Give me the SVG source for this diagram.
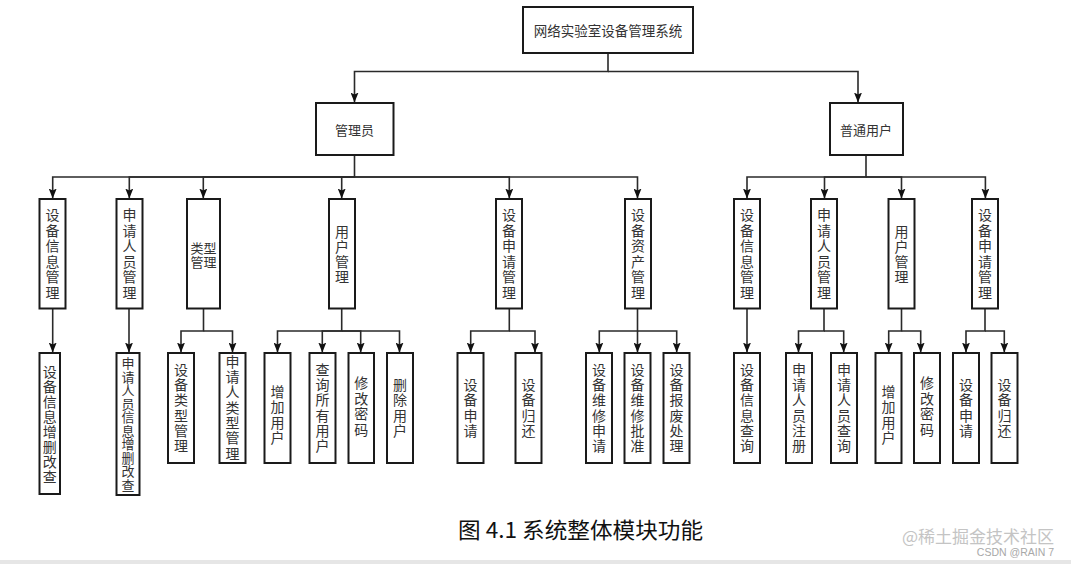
<svg xmlns="http://www.w3.org/2000/svg" width="1071" height="564" viewBox="0 0 1071 564">
<style>
.box{fill:#fff;stroke:#1a1a1a;stroke-width:2}
.t{font-family:"Noto Sans CJK SC","Noto Sans",sans-serif;font-size:14px;fill:#333;text-anchor:middle}
.h{font-size:13px}
.v{writing-mode:vertical-rl;text-orientation:upright;letter-spacing:1.5px}
.v15{letter-spacing:1px}
.v153{letter-spacing:1.33px}
.edge{fill:none;stroke:#2a2a2a;stroke-width:1.6;marker-end:url(#arr)}
</style>
<defs>
<marker id="arr" viewBox="0 0 10 8" refX="10" refY="4" markerWidth="10" markerHeight="8" markerUnits="userSpaceOnUse" orient="auto">
<path d="M0,0 L10,4 L0,8 L2,4 z" fill="#111"/>
</marker>
</defs>
<rect width="1071" height="564" fill="#fff"/>
<rect x="0" y="560" width="1071" height="4" fill="#e6e6e6"/>

<g id="connectors">
<path class="edge" d="M608,53 V71.5 H354.5 V102.5"/>
<path class="edge" d="M608,71.5 H858 V102.5"/>
<path class="edge" d="M354.5,155 V177 H52.7 V198.5"/>
<path class="edge" d="M354.5,177 H129.3 V198.5"/>
<path class="edge" d="M354.5,177 H203.3 V198.5"/>
<path class="edge" d="M354.5,177 H341.7 V198.5"/>
<path class="edge" d="M354.5,177 H509.3 V198.5"/>
<path class="edge" d="M354.5,177 H637.5 V198.5"/>
<path class="edge" d="M866,155 V177 H747 V198.5"/>
<path class="edge" d="M866,177 H824.5 V198.5"/>
<path class="edge" d="M866,177 H901.5 V198.5"/>
<path class="edge" d="M866,177 H985.4 V198.5"/>
<path class="edge" d="M52.7,308.5 V352.5"/>
<path class="edge" d="M129,308.5 V352.5"/>
<path class="edge" d="M203.5,308.5 V331 H181 V352.5"/>
<path class="edge" d="M203.5,331 H232.5 V352.5"/>
<path class="edge" d="M341.7,308.5 V331 H277.5 V352.5"/>
<path class="edge" d="M341.7,331 H322.3 V352.5"/>
<path class="edge" d="M341.7,331 H360.7 V352.5"/>
<path class="edge" d="M341.7,331 H399.5 V352.5"/>
<path class="edge" d="M509.3,308.5 V331 H470.7 V352.5"/>
<path class="edge" d="M509.3,331 H535 V352.5"/>
<path class="edge" d="M637.5,308.5 V331 H599.3 V352.5"/>
<path class="edge" d="M637.5,331 V352.5"/>
<path class="edge" d="M637.5,331 H676.7 V352.5"/>
<path class="edge" d="M747,308.5 V352.5"/>
<path class="edge" d="M824,308.5 V331 H798.5 V352.5"/>
<path class="edge" d="M824,331 H843.7 V352.5"/>
<path class="edge" d="M901.5,308.5 V331 H888.7 V352.5"/>
<path class="edge" d="M901.5,331 H920.7 V352.5"/>
<path class="edge" d="M985,308.5 V331 H966 V352.5"/>
<path class="edge" d="M985,331 H1004.3 V352.5"/>
</g>

<g id="root">
<rect class="box" x="523" y="7" width="170" height="46"/>
<text class="t" x="608" y="35.5" style="font-size:13.5px">网络实验室设备管理系统</text>
</g>
<g id="admin">
<rect class="box" x="316" y="103" width="77.5" height="52"/>
<text class="t h" x="354.5" y="134.5">管理员</text>
</g>
<g id="user">
<rect class="box" x="830" y="103" width="73" height="52"/>
<text class="t h" x="866" y="134.5">普通用户</text>
</g>

<g id="a-device-info">
<rect class="box" x="39.5" y="199" width="26" height="109.5"/>
<text class="t v" x="52.5" y="254.5">设备信息管理</text>
</g>
<g id="a-applicant">
<rect class="box" x="116.5" y="199" width="26" height="109.5"/>
<text class="t v" x="129.5" y="254.5">申请人员管理</text>
</g>
<g id="a-type">
<rect class="box" x="187" y="199" width="33" height="109.5"/>
<text class="t h" x="203.5" y="253">类型</text>
<text class="t h" x="203.5" y="267">管理</text>
</g>
<g id="a-usermgmt">
<rect class="box" x="329" y="199" width="26" height="109.5"/>
<text class="t v v15" x="342" y="254.5">用户管理</text>
</g>
<g id="a-apply">
<rect class="box" x="496" y="199" width="26" height="109.5"/>
<text class="t v" x="509" y="254.5">设备申请管理</text>
</g>
<g id="a-asset">
<rect class="box" x="625" y="199" width="26" height="109.5"/>
<text class="t v" x="638" y="254.5">设备资产管理</text>
</g>
<g id="u-device-info">
<rect class="box" x="734" y="199" width="26" height="109.5"/>
<text class="t v" x="747" y="254.5">设备信息管理</text>
</g>
<g id="u-applicant">
<rect class="box" x="811" y="199" width="26" height="109.5"/>
<text class="t v" x="824" y="254.5">申请人员管理</text>
</g>
<g id="u-usermgmt">
<rect class="box" x="888.5" y="199" width="26" height="109.5"/>
<text class="t v v15" x="901.5" y="254.5">用户管理</text>
</g>
<g id="u-apply">
<rect class="box" x="972" y="199" width="26" height="109.5"/>
<text class="t v" x="985" y="254.5">设备申请管理</text>
</g>

<g id="a-device-crud">
<rect class="box" x="39.5" y="353" width="20.5" height="141"/>
<text class="t v v15" x="49.7" y="424.5">设备信息增删改查</text>
</g>
<g id="a-applicant-crud">
<rect class="box" x="116.5" y="353" width="23" height="142"/>
<text class="t v" x="128" y="424.5" style="font-size:13px;letter-spacing:0.5px">申请人员信息增删改查</text>
</g>
<g id="a-device-type">
<rect class="box" x="168" y="353" width="26" height="110"/>
<text class="t v v153" x="181" y="408.5">设备类型管理</text>
</g>
<g id="a-applicant-type">
<rect class="box" x="219.5" y="353" width="26" height="110"/>
<text class="t v v153" x="232.5" y="408">申请人类型管理</text>
</g>
<g id="a-add-user">
<rect class="box" x="264.5" y="353" width="26" height="110"/>
<text class="t v" x="277.5" y="415.5">增加用户</text>
</g>
<g id="a-query-users">
<rect class="box" x="309.5" y="353" width="26" height="110"/>
<text class="t v v153" x="322.5" y="408.5">查询所有用户</text>
</g>
<g id="a-change-pwd">
<rect class="box" x="348.5" y="353" width="25.5" height="110"/>
<text class="t v" x="361.2" y="407">修改密码</text>
</g>
<g id="a-del-user">
<rect class="box" x="387" y="353" width="26" height="110"/>
<text class="t v" x="400" y="408.5">删除用户</text>
</g>
<g id="a-dev-apply">
<rect class="box" x="457.5" y="353" width="26" height="110"/>
<text class="t v" x="470.5" y="408.5">设备申请</text>
</g>
<g id="a-dev-return">
<rect class="box" x="515.5" y="353" width="26" height="110"/>
<text class="t v" x="528.5" y="408.5">设备归还</text>
</g>
<g id="a-repair-apply">
<rect class="box" x="586" y="353" width="26" height="110"/>
<text class="t v v153" x="599" y="408.5">设备维修申请</text>
</g>
<g id="a-repair-approve">
<rect class="box" x="624.5" y="353" width="26" height="110"/>
<text class="t v v153" x="637.5" y="408.5">设备维修批准</text>
</g>
<g id="a-scrap">
<rect class="box" x="663.5" y="353" width="26" height="110"/>
<text class="t v v153" x="676.5" y="408.5">设备报废处理</text>
</g>
<g id="u-info-query">
<rect class="box" x="734" y="353" width="26" height="110"/>
<text class="t v v153" x="747" y="408.5">设备信息查询</text>
</g>
<g id="u-register">
<rect class="box" x="786" y="353" width="26" height="110"/>
<text class="t v v153" x="799" y="408.5">申请人员注册</text>
</g>
<g id="u-applicant-query">
<rect class="box" x="831" y="353" width="26" height="110"/>
<text class="t v v153" x="844" y="408.5">申请人员查询</text>
</g>
<g id="u-add-user">
<rect class="box" x="875.5" y="353" width="26" height="110"/>
<text class="t v" x="888.5" y="415.5">增加用户</text>
</g>
<g id="u-change-pwd">
<rect class="box" x="914" y="353" width="26" height="110"/>
<text class="t v" x="927" y="407">修改密码</text>
</g>
<g id="u-dev-apply">
<rect class="box" x="953" y="353" width="26" height="110"/>
<text class="t v" x="966" y="408.5">设备申请</text>
</g>
<g id="u-dev-return">
<rect class="box" x="991.5" y="353" width="26" height="110"/>
<text class="t v" x="1004.5" y="408.5">设备归还</text>
</g>

<g id="caption">
<text x="458" y="538" style="font-family:'Noto Sans CJK SC',sans-serif;font-size:22px;fill:#111" textLength="245" lengthAdjust="spacingAndGlyphs">图 4.1 系统整体模块功能</text>
<text x="1054" y="543" style="font-family:'Noto Sans CJK SC',sans-serif;font-size:17px;fill:#c4c4c4;text-anchor:end">@稀土掘金技术社区</text>
<text x="1054" y="556" style="font-family:'Liberation Sans',sans-serif;font-size:10.5px;fill:#a8a8a8;text-anchor:end">CSDN @RAIN 7</text>
</g>
</svg>
